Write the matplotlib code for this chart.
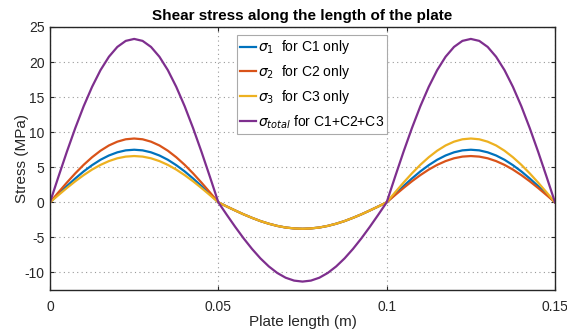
import numpy as np
import matplotlib.pyplot as plt

plt.rcParams['font.family'] = ['Liberation Sans', 'DejaVu Sans']
plt.rcParams['mathtext.fontset'] = 'dejavusans'
plt.rcParams['axes.unicode_minus'] = False

# plate position (m), step 0.0025
x = np.round(np.arange(61) * 0.0025, 4)

s1 = [0, 1.17, 2.32, 3.40, 4.41, 5.30, 6.07, 6.68, 7.13, 7.41, 7.50, 7.41, 7.13, 6.68, 6.07, 5.30, 4.41, 3.40, 2.32, 1.17, 0,
      -0.59, -1.16, -1.71, -2.21, -2.67, -3.05, -3.36, -3.59, -3.72, -3.77, -3.72, -3.59, -3.36, -3.05, -2.67, -2.21, -1.71, -1.16, -0.59, 0,
      1.17, 2.32, 3.40, 4.41, 5.30, 6.07, 6.68, 7.13, 7.41, 7.50, 7.41, 7.13, 6.68, 6.07, 5.30, 4.41, 3.40, 2.32, 1.17, 0]
s2 = [0, 1.42, 2.81, 4.13, 5.35, 6.43, 7.36, 8.11, 8.65, 8.99, 9.10, 8.99, 8.65, 8.11, 7.36, 6.43, 5.35, 4.13, 2.81, 1.42, 0,
      -0.59, -1.16, -1.71, -2.21, -2.67, -3.05, -3.36, -3.59, -3.72, -3.77, -3.72, -3.59, -3.36, -3.05, -2.67, -2.21, -1.71, -1.16, -0.59, 0,
      1.03, 2.04, 3.00, 3.88, 4.67, 5.34, 5.88, 6.28, 6.52, 6.60, 6.52, 6.28, 5.88, 5.34, 4.67, 3.88, 3.00, 2.04, 1.03, 0]
s3 = [0, 1.03, 2.04, 3.00, 3.88, 4.67, 5.34, 5.88, 6.28, 6.52, 6.60, 6.52, 6.28, 5.88, 5.34, 4.67, 3.88, 3.00, 2.04, 1.03, 0,
      -0.59, -1.16, -1.71, -2.21, -2.67, -3.05, -3.36, -3.59, -3.72, -3.77, -3.72, -3.59, -3.36, -3.05, -2.67, -2.21, -1.71, -1.16, -0.59, 0,
      1.42, 2.81, 4.13, 5.35, 6.43, 7.36, 8.11, 8.65, 8.99, 9.10, 8.99, 8.65, 8.11, 7.36, 6.43, 5.35, 4.13, 2.81, 1.42, 0]
stot = [0, 3.64, 7.20, 10.58, 13.70, 16.47, 18.85, 20.76, 22.16, 23.02, 23.30, 23.02, 22.16, 20.76, 18.85, 16.47, 13.70, 10.58, 7.20, 3.64, 0,
        -1.77, -3.49, -5.13, -6.64, -7.99, -9.14, -10.07, -10.75, -11.16, -11.30, -11.16, -10.75, -10.07, -9.14, -7.99, -6.64, -5.13, -3.49, -1.77, 0,
        3.64, 7.20, 10.58, 13.70, 16.47, 18.85, 20.76, 22.16, 23.02, 23.30, 23.02, 22.16, 20.76, 18.85, 16.47, 13.70, 10.58, 7.20, 3.64, 0]

labels = [r'$\sigma_1$  for C1 only', r'$\sigma_2$  for C2 only',
          r'$\sigma_3$  for C3 only', r'$\sigma_{total}$ for C1+C2+C3']
colors = ['#0072BD', '#D95319', '#EDB120', '#7E2F8E']

fig = plt.figure(figsize=(5.67, 3.29), dpi=100)
ax = fig.add_axes([50 / 567, 39 / 329, 505 / 567, 263 / 329])

for y, lab, c in zip([s1, s2, s3, stot], labels, colors):
    ax.plot(x, y, color=c, lw=1.6, label=lab)

ax.set_xlim(0, 0.15)
ax.set_ylim(-12.5, 25)
ax.set_xticks([0, 0.05, 0.1, 0.15])
ax.set_xticklabels(['0', '0.05', '0.1', '0.15'])
ax.set_yticks(np.arange(-10, 26, 5))
ax.grid(True, ls=(0, (1, 3)), color='#999999', lw=0.8)
ax.tick_params(direction='in', labelsize=10, colors='#262626', length=3,
               top=True, right=True)
ax.tick_params(axis='x', pad=7)
ax.tick_params(axis='y', pad=4)
for sp in ax.spines.values():
    sp.set_linewidth(1.0)
    sp.set_color('#262626')

ax.set_xlabel('Plate length (m)', fontsize=11, color='#262626', labelpad=1)
ax.set_ylabel('Stress (MPa)', fontsize=11, color='#262626', labelpad=-3)
ax.set_title('Shear stress along the length of the plate', fontsize=11,
             fontweight='bold', pad=5)

leg = ax.legend(loc='upper left', bbox_to_anchor=(0.370, 0.970), fontsize=10,
                handlelength=1.1, handletextpad=0.15, labelspacing=0.5,
                borderpad=0.25, borderaxespad=0, fancybox=False, framealpha=1,
                edgecolor='#aaaaaa')
leg.get_frame().set_linewidth(0.8)

fig.savefig('out.png', dpi=100)
